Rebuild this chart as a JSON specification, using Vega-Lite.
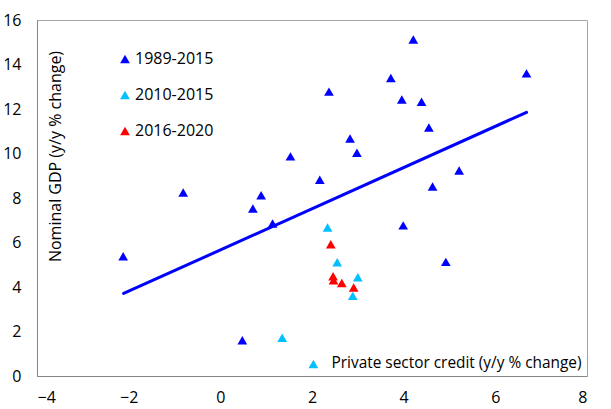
{
  "$schema": "https://vega.github.io/schema/vega-lite/v6.json",
  "width": 550,
  "height": 356,
  "autosize": {"type": "none"},
  "padding": {"left": 37, "top": 20, "right": 24, "bottom": 33},
  "background": "white",
  "config": {
    "font": "Open Sans",
    "view": {"stroke": "#a6a6a6", "strokeWidth": 1},
    "axis": {
      "grid": false,
      "ticks": false,
      "domainColor": "#868686",
      "domainWidth": 1,
      "labelFont": "Open Sans",
      "labelFontSize": 16,
      "labelColor": "#000000",
      "titleFont": "Open Sans",
      "titleFontSize": 16,
      "titleFontWeight": "normal",
      "titleColor": "#000000"
    },
    "legend": {
      "labelFont": "Open Sans",
      "labelFontSize": 16,
      "labelColor": "#000000"
    }
  },
  "datasets": {
    "points": [
      {"credit": -2.12, "gdp": 5.38, "period": "1989-2015"},
      {"credit": -0.81, "gdp": 8.25, "period": "1989-2015"},
      {"credit": 0.71, "gdp": 7.53, "period": "1989-2015"},
      {"credit": 0.89, "gdp": 8.12, "period": "1989-2015"},
      {"credit": 1.14, "gdp": 6.85, "period": "1989-2015"},
      {"credit": 1.53, "gdp": 9.87, "period": "1989-2015"},
      {"credit": 0.48, "gdp": 1.61, "period": "1989-2015"},
      {"credit": 2.17, "gdp": 8.82, "period": "1989-2015"},
      {"credit": 2.37, "gdp": 12.78, "period": "1989-2015"},
      {"credit": 2.83, "gdp": 10.67, "period": "1989-2015"},
      {"credit": 2.98, "gdp": 10.03, "period": "1989-2015"},
      {"credit": 3.72, "gdp": 13.39, "period": "1989-2015"},
      {"credit": 3.96, "gdp": 12.43, "period": "1989-2015"},
      {"credit": 4.21, "gdp": 15.12, "period": "1989-2015"},
      {"credit": 4.39, "gdp": 12.33, "period": "1989-2015"},
      {"credit": 4.55, "gdp": 11.17, "period": "1989-2015"},
      {"credit": 5.21, "gdp": 9.24, "period": "1989-2015"},
      {"credit": 4.63, "gdp": 8.52, "period": "1989-2015"},
      {"credit": 6.68, "gdp": 13.6, "period": "1989-2015"},
      {"credit": 3.99, "gdp": 6.77, "period": "1989-2015"},
      {"credit": 4.92, "gdp": 5.13, "period": "1989-2015"},
      {"credit": 1.35, "gdp": 1.72, "period": "2010-2015"},
      {"credit": 2.03, "gdp": 0.54, "period": "2010-2015"},
      {"credit": 2.34, "gdp": 6.67, "period": "2010-2015"},
      {"credit": 2.55, "gdp": 5.11, "period": "2010-2015"},
      {"credit": 3.0, "gdp": 4.44, "period": "2010-2015"},
      {"credit": 2.89, "gdp": 3.6, "period": "2010-2015"},
      {"credit": 2.41, "gdp": 5.92, "period": "2016-2020"},
      {"credit": 2.46, "gdp": 4.48, "period": "2016-2020"},
      {"credit": 2.47, "gdp": 4.3, "period": "2016-2020"},
      {"credit": 2.65, "gdp": 4.18, "period": "2016-2020"},
      {"credit": 2.91, "gdp": 3.98, "period": "2016-2020"}
    ],
    "fit": [
      {"credit": -2.11, "gdp": 3.71},
      {"credit": 6.68, "gdp": 11.85}
    ]
  },
  "layer": [
    {
      "data": {"name": "fit"},
      "mark": {"type": "line", "color": "#0000FF", "strokeWidth": 3, "strokeCap": "round"},
      "encoding": {
        "x": {"field": "credit", "type": "quantitative", "scale": {"domain": [-4, 8], "nice": false, "zero": false}},
        "y": {"field": "gdp", "type": "quantitative", "scale": {"domain": [0, 16], "nice": false}}
      }
    },
    {
      "data": {"name": "points"},
      "mark": {"type": "point", "shape": "triangle-up", "filled": true, "opacity": 1, "size": 95},
      "encoding": {
        "x": {
          "field": "credit", "type": "quantitative",
          "scale": {"domain": [-4, 8], "nice": false, "zero": false},
          "axis": {
            "values": [-4, -2, 0, 2, 4, 6, 8],
            "labelPadding": 13,
            "title": "Private sector credit (y/y % change)",
            "titleX": 544,
            "titleY": -14,
            "titleAlign": "right",
            "titleBaseline": "middle",
            "titleFontSize": 15.4
          }
        },
        "y": {
          "field": "gdp", "type": "quantitative",
          "scale": {"domain": [0, 16], "nice": false},
          "axis": {
            "values": [0, 2, 4, 6, 8, 10, 12, 14, 16],
            "labelPadding": 16,
            "title": "Nominal GDP (y/y % change)",
            "titleX": 18,
            "titleY": 136,
            "titleAngle": -90,
            "titleAlign": "center",
            "titleBaseline": "middle"
          }
        },
        "color": {
          "field": "period", "type": "nominal",
          "scale": {"domain": ["1989-2015", "2010-2015", "2016-2020"], "range": ["#0000FF", "#00C0FF", "#FF0000"]},
          "legend": {
            "title": null,
            "orient": "none",
            "legendX": 80,
            "legendY": 31,
            "padding": 0,
            "rowPadding": 20,
            "symbolType": "triangle-up",
            "symbolSize": 95,
            "symbolOpacity": 1,
            "labelOffset": 2
          }
        },
        "order": {"field": "period", "type": "nominal"}
      }
    }
  ]
}
